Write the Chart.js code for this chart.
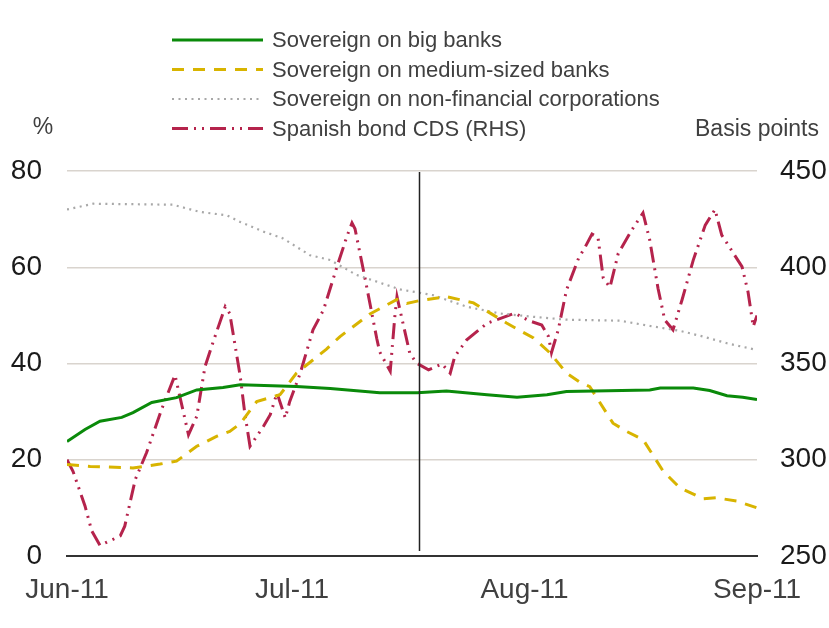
<!DOCTYPE html>
<html>
<head>
<meta charset="utf-8">
<script src="https://cdn.jsdelivr.net/npm/chart.js@4.4.1/dist/chart.umd.min.js"></script>
<style>
  html, body { margin: 0; padding: 0; background: #fff; }
  #wrap { width: 829px; height: 628px; position: relative; }
</style>
</head>
<body>
<div id="wrap"><canvas id="spreadChart"></canvas></div>
<script>
// x values are days counted from 1 June 2011
const monthTickDays = [0, 30, 61, 92];
const monthTickLabels = ['Jun-11', 'Jul-11', 'Aug-11', 'Sep-11'];
const eventDay = 47; // vertical marker

const bigBankDays = [0, 2.4, 4.4, 7.3, 8.8, 11.3, 14.6, 17.3, 20.8, 23.1, 30.6, 35.1, 41.7, 46.7, 50.6, 56.0, 60.0, 64.0, 66.6, 77.7, 79.1, 83.5, 85.7, 88.0, 90.1, 92];
const bigBankValues = [23.8, 26.3, 28.0, 28.8, 29.8, 31.9, 32.9, 34.5, 35.0, 35.6, 35.2, 34.8, 33.9, 33.9, 34.3, 33.5, 33.0, 33.5, 34.2, 34.5, 34.9, 34.9, 34.4, 33.3, 33.0, 32.5];

const mediumBankDays = [0, 3.1, 8.8, 12.4, 14.6, 17.3, 20.0, 21.7, 23.1, 25.3, 28.4, 30.6, 34.6, 36.4, 40.4, 44.0, 45.3, 47.1, 50.6, 54.2, 58.6, 62.2, 64.4, 66.6, 68.4, 69.7, 72.8, 74.6, 76.8, 79.5, 81.7, 84.8, 86.6, 89.3, 92];
const mediumBankValues = [19.0, 18.6, 18.3, 19.1, 19.7, 22.8, 24.9, 25.9, 27.5, 32.1, 33.5, 38.0, 43.0, 45.6, 50.3, 53.3, 52.5, 53.1, 53.9, 52.6, 48.4, 45.3, 42.2, 38.0, 36.1, 35.2, 27.6, 25.9, 24.2, 17.6, 14.2, 11.9, 12.1, 11.4, 10.0];

const corporateDays = [0, 3.5, 14.1, 17.7, 21.3, 23.1, 26.2, 28.8, 32.4, 35.1, 38.6, 41.7, 44.4, 48.8, 53.3, 57.7, 62.2, 66.6, 73.7, 78.1, 81.7, 84.8, 88.0, 92];
const corporateValues = [72.0, 73.2, 73.0, 71.5, 70.8, 69.4, 67.4, 66.0, 62.5, 61.5, 58.4, 56.8, 55.4, 54.2, 51.8, 50.4, 49.7, 49.1, 48.9, 47.7, 46.8, 45.6, 44.2, 42.8];

const cdsDays = [0, 0.8, 2.4, 3.3, 4.4, 7.1, 7.7, 9.1, 10.6, 12.6, 14.4, 16.2, 17.3, 18.4, 19.5, 21.1, 21.7, 23.1, 23.7, 24.4, 26.2, 27.1, 28.0, 29.1, 29.7, 31.1, 32.8, 34.2, 36.0, 37.3, 38.0, 38.4, 39.7, 41.3, 41.7, 43.1, 43.7, 44.0, 44.6, 45.7, 46.6, 48.2, 50.0, 51.1, 51.7, 53.3, 56.0, 59.7, 61.7, 63.3, 64.2, 64.6, 65.5, 66.6, 68.2, 69.1, 70.0, 70.8, 71.5, 72.4, 73.5, 75.3, 76.8, 77.7, 78.8, 79.7, 80.8, 82.0, 83.5, 85.1, 86.4, 87.3, 90.0, 90.8, 91.5, 92];
const cdsBasisPoints = [300, 294, 276, 263, 255.5, 260.4, 265.5, 289.7, 303.6, 326, 344, 313, 322.5, 348.4, 361.4, 379.5, 376, 343.3, 324.3, 307, 317.4, 323.4, 334.7, 321.7, 330.3, 345, 367.5, 377.8, 400.3, 415.8, 423, 420, 395, 363, 356, 346, 374, 384.7, 374.3, 355.4, 350.2, 346.7, 349.8, 345, 353.6, 362.3, 370.9, 376.1, 372.1, 370, 364, 355.7, 367.5, 388.2, 404.6, 410.6, 417.2, 415.5, 394.3, 389.6, 407.2, 419.3, 428.2, 414.1, 389.1, 372.6, 367.5, 383, 403.7, 421.9, 430, 416.7, 400.3, 387.3, 369.2, 375];

function toPoints(days, values) {
  return days.map((d, i) => ({ x: d, y: values[i] }));
}

const FONT = '"Liberation Sans", Arial, sans-serif';

// legend stacked in one column, plus the two axis captions
const annotationsPlugin = {
  id: 'annotations',
  afterDatasetsDraw(chart) {
    const ctx = chart.ctx;
    const x = chart.scales.x;
    const area = chart.chartArea;
    const px = x.getPixelForValue(eventDay);
    ctx.save();
    ctx.strokeStyle = '#222';
    ctx.lineWidth = 1.5;
    ctx.beginPath();
    ctx.moveTo(px, area.top + 1);
    ctx.lineTo(px, area.bottom - 5);
    ctx.stroke();
    ctx.restore();
  },
  afterDraw(chart) {
    const ctx = chart.ctx;
    ctx.save();
    ctx.font = '22px ' + FONT;
    ctx.textBaseline = 'middle';
    chart.data.datasets.forEach((ds, i) => {
      const y = 40 + i * 29.5;
      ctx.strokeStyle = ds.borderColor;
      ctx.lineWidth = ds.borderWidth;
      ctx.setLineDash(ds.borderDash || []);
      ctx.beginPath();
      ctx.moveTo(172, y);
      ctx.lineTo(263, y);
      ctx.stroke();
      ctx.setLineDash([]);
      ctx.fillStyle = '#404040';
      ctx.textAlign = 'left';
      ctx.fillText(ds.label, 272, y + 1);
    });
    ctx.font = '23px ' + FONT;
    ctx.textAlign = 'center';
    ctx.fillText('%', 43, 128);
    ctx.textAlign = 'right';
    ctx.fillText('Basis points', 819, 130);
    ctx.restore();
  }
};

new Chart(document.getElementById('spreadChart').getContext('2d'), {
  type: 'line',
  data: {
    datasets: [
      {
        label: 'Sovereign on big banks',
        data: toPoints(bigBankDays, bigBankValues),
        borderColor: '#0a8a0a',
        borderWidth: 3,
        yAxisID: 'y',
      },
      {
        label: 'Sovereign on medium-sized banks',
        data: toPoints(mediumBankDays, mediumBankValues),
        borderColor: '#d8b400',
        borderWidth: 3,
        borderDash: [12, 9],
        yAxisID: 'y',
      },
      {
        label: 'Sovereign on non-financial corporations',
        data: toPoints(corporateDays, corporateValues),
        borderColor: '#a8a8a8',
        borderWidth: 2.2,
        borderDash: [2, 4.5],
        yAxisID: 'y',
      },
      {
        label: 'Spanish bond CDS (RHS)',
        data: toPoints(cdsDays, cdsBasisPoints),
        borderColor: '#b5234c',
        borderWidth: 3,
        borderDash: [16, 6, 2, 6, 2, 6],
        yAxisID: 'y1',
      },
    ],
  },
  options: {
    responsive: true,
    maintainAspectRatio: false,
    animation: false,
    layout: { padding: { top: 171, left: 0, right: 0, bottom: 0 } },
    elements: { point: { radius: 0 }, line: { tension: 0, borderCapStyle: 'butt' } },
    plugins: { legend: { display: false }, tooltip: { enabled: false } },
    scales: {
      x: {
        type: 'linear',
        min: 0,
        max: 92,
        afterBuildTicks: (axis) => { axis.ticks = monthTickDays.map(v => ({ value: v })); },
        afterFit: (axis) => { axis.height = 72; },
        grid: { display: false },
        border: { display: true, color: '#333', width: 2 },
        ticks: {
          autoSkip: false,
          maxRotation: 0,
          padding: 9,
          color: '#404040',
          font: { family: FONT, size: 28 },
          callback: (v) => monthTickLabels[monthTickDays.indexOf(v)],
        },
      },
      y: {
        position: 'left',
        min: 0,
        max: 80,
        afterFit: (axis) => { axis.width = 67; },
        border: { display: false },
        grid: { color: '#d9d4ce', lineWidth: 1.5, drawTicks: false },
        ticks: { stepSize: 20, padding: 25, color: '#1a1a1a', font: { family: FONT, size: 28 } },
      },
      y1: {
        position: 'right',
        min: 250,
        max: 450,
        afterFit: (axis) => { axis.width = 72; },
        border: { display: false },
        grid: { display: false, drawOnChartArea: false, drawTicks: false },
        ticks: { stepSize: 50, padding: 23, color: '#1a1a1a', font: { family: FONT, size: 28 } },
      },
    },
  },
  plugins: [annotationsPlugin],
});
</script>
</body>
</html>
